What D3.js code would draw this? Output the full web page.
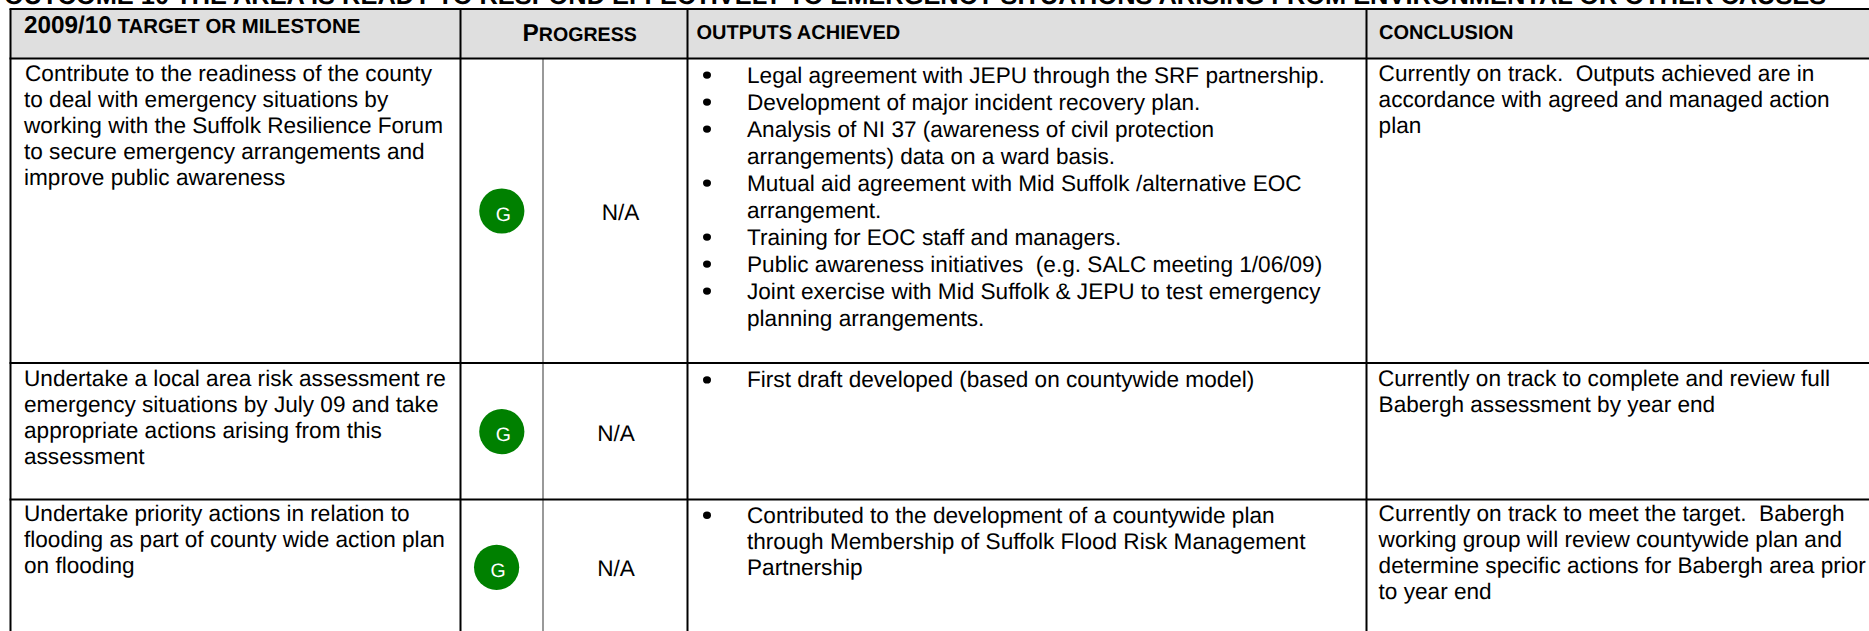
<!DOCTYPE html>
<html>
<head>
<meta charset="utf-8">
<script src="https://cdn.jsdelivr.net/npm/d3@7"></script>
<style>
html, body { margin: 0; padding: 0; background: #fff; overflow: hidden; }
text { font-family: "Liberation Sans", Arial, sans-serif; fill: #000; text-rendering: geometricPrecision; white-space: pre; }
</style>
</head>
<body>
<svg id="sheet" width="1869" height="631"></svg>
<script>
var titleText = "OUTCOME 10 THE AREA IS READY TO RESPOND EFFECTIVELY TO EMERGENCY SITUATIONS ARISING FROM ENVIRONMENTAL OR OTHER CAUSES";

var columns = ["target", "rag", "na", "outputs", "conclusion"];
var rows = ["header", "first", "second", "third"];

var targets = [
    ["Contribute to the readiness of the county", "to deal with emergency situations by", "working with the Suffolk Resilience Forum", "to secure emergency arrangements and", "improve public awareness"],
    ["Undertake a local area risk assessment re", "emergency situations by July 09 and take", "appropriate actions arising from this", "assessment"],
    ["Undertake priority actions in relation to", "flooding as part of county wide action plan", "on flooding"]
];
var ragStatus = ["G", "G", "G"];
var previous = ["N/A", "N/A", "N/A"];
var outputs = [
    [["Legal agreement with JEPU through the SRF partnership."],
     ["Development of major incident recovery plan."],
     ["Analysis of NI 37 (awareness of civil protection", "arrangements) data on a ward basis."],
     ["Mutual aid agreement with Mid Suffolk /alternative EOC", "arrangement."],
     ["Training for EOC staff and managers."],
     ["Public awareness initiatives  (e.g. SALC meeting 1/06/09)"],
     ["Joint exercise with Mid Suffolk & JEPU to test emergency", "planning arrangements."]],
    [["First draft developed (based on countywide model)"]],
    [["Contributed to the development of a countywide plan", "through Membership of Suffolk Flood Risk Management", "Partnership"]]
];
var conclusions = [
    ["Currently on track.  Outputs achieved are in", "accordance with agreed and managed action", "plan"],
    ["Currently on track to complete and review full", "Babergh assessment by year end"],
    ["Currently on track to meet the target.  Babergh", "working group will review countywide plan and", "determine specific actions for Babergh area prior", "to year end"]
];

var svg = d3.select("#sheet");
var width = +svg.attr("width"), height = +svg.attr("height");

// page layout
var xEdge = d3.scaleOrdinal(columns, [10.5, 460.5, 543, 687.5, 1366.5]);
var yEdge = d3.scaleOrdinal(rows, [9, 58.5, 363, 499.5]);
var bodyRows = rows.slice(1);
var textY = d3.scaleOrdinal(bodyRows, [81, 386, 520.7]);
var outputY = d3.scaleOrdinal(bodyRows, [82.5, 387.3, 522.7]);
var outputStep = d3.scaleOrdinal(bodyRows, [27, 27, 26.2]);
var circleX = d3.scaleOrdinal(bodyRows, [501.8, 501.8, 496.6]);
var circleY = d3.scaleOrdinal(bodyRows, [211, 431.7, 567.3]);
var naX = d3.scaleOrdinal(bodyRows, [620.5, 616, 616]);
// the first lines that sit slightly off the left edge of their cell
var targetNudge = d3.scaleOrdinal(bodyRows, [1, 0, 0]);
var conclusionNudge = d3.scaleOrdinal(bodyRows, [0, -0.7, 0]);
var lineHeight = 26;
var bodySize = 22.6;

function textBlock(g, lines, x, y, nudge) {
    g.selectAll(null)
        .data(lines)
        .join("text")
        .attr("x", function(d, i) { return i == 0 ? x + nudge : x; })
        .attr("y", function(d, i) { return y + i * lineHeight; })
        .text(function(d) { return d; });
}

// title, cut by the top of the page
svg.append("text")
    .attr("x", 4).attr("y", 4)
    .attr("font-size", 25.4).attr("font-weight", "bold")
    .text(titleText);

// header band
svg.append("rect")
    .attr("x", xEdge("target")).attr("y", yEdge("header"))
    .attr("width", width - xEdge("target"))
    .attr("height", yEdge("first") - yEdge("header"))
    .attr("fill", "#dfdfdf");

var head = svg.append("g").attr("font-weight", "bold");
var h1 = head.append("text").attr("x", 24).attr("y", 33);
h1.append("tspan").attr("font-size", 24.3).text("2009/10");
h1.append("tspan").attr("font-size", 20.4).text(" TARGET OR MILESTONE");
var h2 = head.append("text").attr("x", 522.5).attr("y", 41);
h2.append("tspan").attr("font-size", 24.4).text("P");
h2.append("tspan").attr("font-size", 19.6).text("ROGRESS");
head.append("text").attr("x", 696.5).attr("y", 39.3).attr("font-size", 20).text("OUTPUTS ACHIEVED");
head.append("text").attr("x", 1379).attr("y", 39.3).attr("font-size", 20).text("CONCLUSION");

// grid lines
svg.selectAll("line.v")
    .data(columns)
    .join("line")
    .attr("class", "v")
    .attr("x1", function(d) { return xEdge(d); })
    .attr("x2", function(d) { return xEdge(d); })
    .attr("y1", function(d) { return d == "na" ? yEdge("first") : yEdge("header"); })
    .attr("y2", height)
    .attr("stroke", function(d) { return d == "na" ? "#999" : "#000"; })
    .attr("stroke-width", 2);

svg.selectAll("line.h")
    .data(rows)
    .join("line")
    .attr("class", "h")
    .attr("x1", xEdge("target") - 1)
    .attr("x2", width)
    .attr("y1", function(d) { return yEdge(d); })
    .attr("y2", function(d) { return yEdge(d); })
    .attr("stroke", "#000")
    .attr("stroke-width", 2);

// body rows
bodyRows.forEach(function(r, i) {
    var g = svg.append("g").attr("font-size", bodySize);

    textBlock(g.append("g"), targets[i], 24, textY(r), targetNudge(r));

    g.append("circle")
        .attr("cx", circleX(r)).attr("cy", circleY(r)).attr("r", 22.6)
        .attr("fill", "#008000");
    g.append("text")
        .attr("x", circleX(r) + 1.5).attr("y", circleY(r) + 9.5)
        .attr("text-anchor", "middle")
        .attr("font-size", 19.5).style("fill", "#fff")
        .text(ragStatus[i]);

    g.append("text")
        .attr("x", naX(r)).attr("y", circleY(r) + 8.8)
        .attr("text-anchor", "middle")
        .text(previous[i]);

    // bullets, each item may run over more than one line
    var n = 0;
    outputs[i].forEach(function(item) {
        var by = outputY(r) + n * outputStep(r);
        g.append("ellipse")
            .attr("cx", 707).attr("cy", by - 7.4).attr("rx", 4).attr("ry", 3.7)
            .attr("fill", "#000");
        item.forEach(function(line, k) {
            g.append("text")
                .attr("x", 747).attr("y", by + k * outputStep(r))
                .text(line);
        });
        n += item.length;
    });

    textBlock(g.append("g"), conclusions[i], 1378.6, textY(r), conclusionNudge(r));
});
</script>
</body>
</html>
